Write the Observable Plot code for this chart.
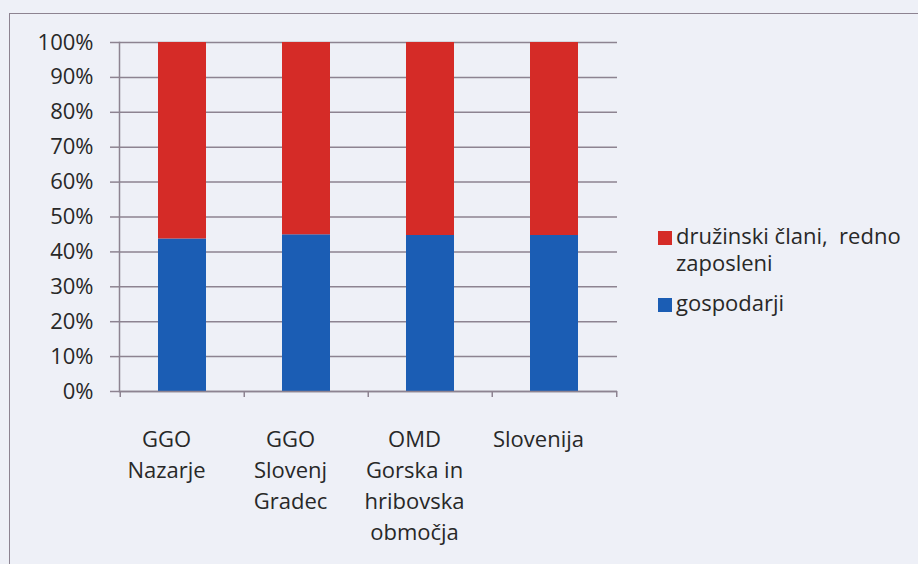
<!DOCTYPE html>
<html><head><meta charset="utf-8">
<script src="https://cdn.jsdelivr.net/npm/d3@7"></script>
<script src="https://cdn.jsdelivr.net/npm/@observablehq/plot@0.6"></script>
<style>
html,body{margin:0;padding:0;background:#eef0f7;}
#wrap{position:relative;width:918px;height:564px;overflow:hidden;background:#eef0f7;font-family:"Open Sans","Noto Sans",sans-serif;color:#282828;}
#border{position:absolute;left:9px;top:13px;right:-10px;bottom:-10px;border-left:1.5px solid #8d8391;border-top:1.5px solid #8d8391;}
#chart{position:absolute;left:0;top:0;}
#legend{position:absolute;left:658px;top:0;font-size:22px;line-height:27px;}
.item{position:absolute;left:0;display:flex;align-items:flex-start;white-space:pre-wrap;}
.sw{width:14px;height:14px;margin-top:9px;margin-right:4px;flex:none;}
.lab{width:245px;}
</style>
</head><body>
<div id="wrap"><div id="border"></div><div id="chart"></div><div id="legend"></div></div>
<script>
const categories = ["GGO\nNazarje", "GGO\nSlovenj\nGradec", "OMD\nGorska in\nhribovska\nobmočja", "Slovenija"];
const seriesNames = ["gospodarji", "družinski člani,  redno zaposleni"];
const gospodarji = [0.437, 0.449, 0.447, 0.447];
const druzinskiClani = [0.563, 0.551, 0.553, 0.553];
const yTicks = [0, 0.1, 0.2, 0.3, 0.4, 0.5, 0.6, 0.7, 0.8, 0.9, 1];
const colors = ["#1b5db4", "#d52b27"];
const legendOrder = ["družinski člani,  redno zaposleni", "gospodarji"];

const data = categories.flatMap((c, i) => [
  {category: c, series: seriesNames[0], value: gospodarji[i]},
  {category: c, series: seriesNames[1], value: druzinskiClani[i]}
]);

const W = 918, H = 564, mL = 119, mR = 301, mT = 42, mB = 173;
const step = (W - mL - mR) / categories.length;
const lineColor = "#8d8391";

const chart = Plot.plot({
  width: W, height: H,
  marginLeft: mL, marginRight: mR, marginTop: mT, marginBottom: mB,
  style: {background: "transparent", fontFamily: "'Open Sans', 'Noto Sans', sans-serif", fontSize: "22px", color: "#282828"},
  x: {domain: categories, paddingInner: 0.61, paddingOuter: 0.305, label: null},
  y: {domain: [0, 1], label: null},
  color: {domain: seriesNames, range: colors},
  marks: [
    Plot.gridY(yTicks, {stroke: lineColor, strokeOpacity: 1, strokeWidth: 1.5}),
    Plot.axisY(yTicks, {tickSize: 9, tickPadding: 17, tickFormat: d3.format(".0%"), stroke: lineColor, strokeOpacity: 1, strokeWidth: 1.5, label: null}),
    Plot.barY(data, {x: "category", y: "value", fill: "series", order: seriesNames}),
    Plot.frame({anchor: "left", stroke: lineColor, strokeWidth: 1.5}),
    Plot.ruleY([0], {stroke: lineColor, strokeWidth: 1.5}),
    Plot.axisX({tickSize: 6, tickFormat: () => "", dx: -step / 2, stroke: lineColor, strokeOpacity: 1, strokeWidth: 1.5, label: null}),
    Plot.axisX([categories[categories.length - 1]], {tickSize: 6, tickFormat: () => "", dx: step / 2, stroke: lineColor, strokeOpacity: 1, strokeWidth: 1.5, label: null}),
    Plot.axisX({tickSize: 0, tickPadding: 33, lineHeight: 1.41, dx: -16, label: null})
  ]
});
document.getElementById("chart").appendChild(chart);

const legend = document.getElementById("legend");
const tops = [222, 289];
legendOrder.forEach((name, i) => {
  const item = document.createElement("div");
  item.className = "item";
  item.style.top = tops[i] + "px";
  const sw = document.createElement("div");
  sw.className = "sw";
  sw.style.background = colors[seriesNames.indexOf(name)];
  const lab = document.createElement("div");
  lab.className = "lab";
  lab.textContent = name;
  item.appendChild(sw); item.appendChild(lab);
  legend.appendChild(item);
});
</script>
</body></html>
